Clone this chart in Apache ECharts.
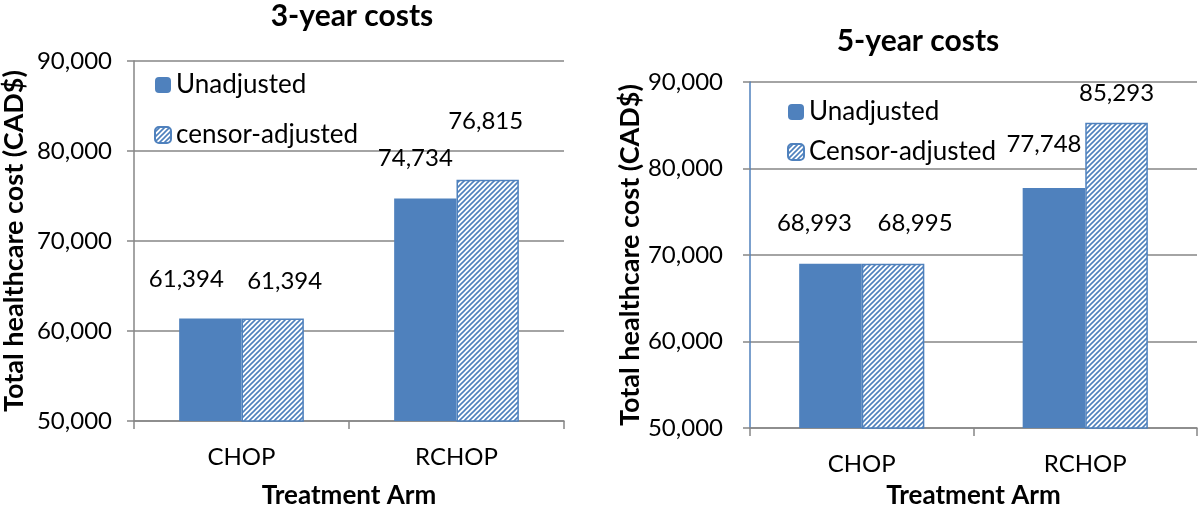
<!DOCTYPE html>
<html>
<head>
<meta charset="utf-8">
<script src="https://cdn.jsdelivr.net/npm/echarts@6/dist/echarts.min.js"></script>
<style>html,body{margin:0;padding:0;background:#fff}#c{width:1200px;height:514px}</style>
</head>
<body>
<div id="c"></div>
<script>
// ---- data ----
const categories = ['CHOP', 'RCHOP'];
const unadj3 = [61394, 74734];
const cens3 = [61394, 76815];
const unadj5 = [68993, 77748];
const cens5 = [68995, 85293];
const yTicks = [50000, 60000, 70000, 80000, 90000];
const titles = ['3-year costs', '5-year costs'];
const seriesNames3 = ['Unadjusted', 'censor-adjusted'];
const seriesNames5 = ['Unadjusted', 'Censor-adjusted'];
// label nudges (style only)
const lblOff3u = [[-24, -15], [-10, -16]];
const lblOff3c = [[12, -13], [-2, -34]];
const lblOff5u = [[-16, -16], [-10, -20]];
const lblOff5c = [[22, -16], [0, -5]];

const BLUE = '#4F81BD';
const GRAY = '#868686';
const FONT = 'Lato';

function hatch() {
  const s = 5;
  const c = document.createElement('canvas');
  c.width = s; c.height = s;
  const g = c.getContext('2d');
  g.fillStyle = '#fff'; g.fillRect(0, 0, s, s);
  g.strokeStyle = BLUE; g.lineWidth = 1.6;
  g.beginPath();
  g.moveTo(-1, s + 1); g.lineTo(s + 1, -1);
  g.moveTo(-1, 1); g.lineTo(1, -1);
  g.moveTo(s - 1, s + 1); g.lineTo(s + 1, s - 1);
  g.stroke();
  return c;
}
const pattern = { image: hatch(), repeat: 'repeat' };

const fmt = v => Number(v).toLocaleString('en-US');

function mkData(vals, offs) {
  return vals.map((v, i) => ({ value: v, label: { offset: offs[i] } }));
}
const labelBase = { show: true, position: 'top', distance: 12, color: '#000', fontFamily: FONT, fontSize: 24, formatter: p => fmt(p.value) };
const xName = { fontFamily: FONT, fontSize: 26, fontWeight: 'bold', color: '#000' };
const yName = { fontFamily: FONT, fontSize: 27, fontWeight: 'bold', color: '#000' };

function xAxis(gi, nameGap) {
  return {
    type: 'category', gridIndex: gi, data: categories,
    name: 'Treatment Arm', nameLocation: 'middle', nameGap: nameGap,
    nameTextStyle: xName,
    axisLine: { lineStyle: { color: GRAY, width: 1.5 } },
    axisTick: { show: true, length: 8, alignWithLabel: false, lineStyle: { color: GRAY, width: 1.5 } },
    axisLabel: { fontFamily: FONT, fontSize: 24, color: '#000', margin: 24 }
  };
}
function yAxis(gi, lineColor, margin, nameGap) {
  return {
    type: 'value', gridIndex: gi, min: yTicks[0], max: yTicks[yTicks.length - 1], interval: yTicks[1] - yTicks[0],
    name: 'Total healthcare cost (CAD$)', nameLocation: 'middle', nameGap: nameGap,
    nameTextStyle: yName,
    axisLine: { show: true, lineStyle: { color: lineColor, width: 1.5 } },
    axisTick: { show: true, length: 7, lineStyle: { color: GRAY, width: 1.5 } },
    splitLine: { show: true, lineStyle: { color: GRAY, width: 1.5 } },
    axisLabel: { fontFamily: FONT, fontSize: 24, color: '#000', margin: margin, formatter: v => fmt(v) }
  };
}

const legendText = { fontFamily: FONT, fontSize: 26, color: '#000', lineHeight: 25 };

const chart = echarts.init(document.getElementById('c'), null, { renderer: 'canvas' });
chart.setOption({
  animation: false,
  backgroundColor: '#fff',
  graphic: [
    { type: 'text', x: 352, y: 16, style: { text: titles[0], align: 'center', verticalAlign: 'middle', fontFamily: FONT, fontSize: 30, fontWeight: 'bold', fill: '#000' } },
    { type: 'text', x: 918, y: 41, style: { text: titles[1], align: 'center', verticalAlign: 'middle', fontFamily: FONT, fontSize: 30, fontWeight: 'bold', fill: '#000' } }
  ],
  legend: [
    { data: seriesNames3, orient: 'vertical', left: 154, top: 72, padding: 0, itemGap: 24, itemWidth: 16, itemHeight: 16,
      textStyle: legendText, selectedMode: false },
    { data: seriesNames5, orient: 'vertical', left: 787, top: 99, padding: 0, itemGap: 14, itemWidth: 16, itemHeight: 16,
      textStyle: legendText, selectedMode: false }
  ],
  grid: [
    { left: 134, top: 61, width: 430, height: 365 },
    { left: 750, top: 82, width: 447, height: 354 }
  ],
  xAxis: [xAxis(0, 62), xAxis(1, 55)],
  yAxis: [yAxis(0, GRAY, 22, 106), yAxis(1, BLUE, 27, 105)],
  series: [
    { name: seriesNames3[0], type: 'bar', xAxisIndex: 0, yAxisIndex: 0, data: mkData(unadj3, lblOff3u),
      barGap: '0%', barCategoryGap: '42%', itemStyle: { color: BLUE }, label: labelBase },
    { name: seriesNames3[1], type: 'bar', xAxisIndex: 0, yAxisIndex: 0, data: mkData(cens3, lblOff3c),
      barGap: '0%', barCategoryGap: '42%', itemStyle: { color: pattern, borderColor: BLUE, borderWidth: 1.5 }, label: labelBase },
    { name: seriesNames5[0], type: 'bar', xAxisIndex: 1, yAxisIndex: 1, data: mkData(unadj5, lblOff5u),
      barGap: '0%', barCategoryGap: '44%', itemStyle: { color: BLUE }, label: labelBase },
    { name: seriesNames5[1], type: 'bar', xAxisIndex: 1, yAxisIndex: 1, data: mkData(cens5, lblOff5c),
      barGap: '0%', barCategoryGap: '44%', itemStyle: { color: pattern, borderColor: BLUE, borderWidth: 1.5 }, label: labelBase }
  ]
});
</script>
</body>
</html>
